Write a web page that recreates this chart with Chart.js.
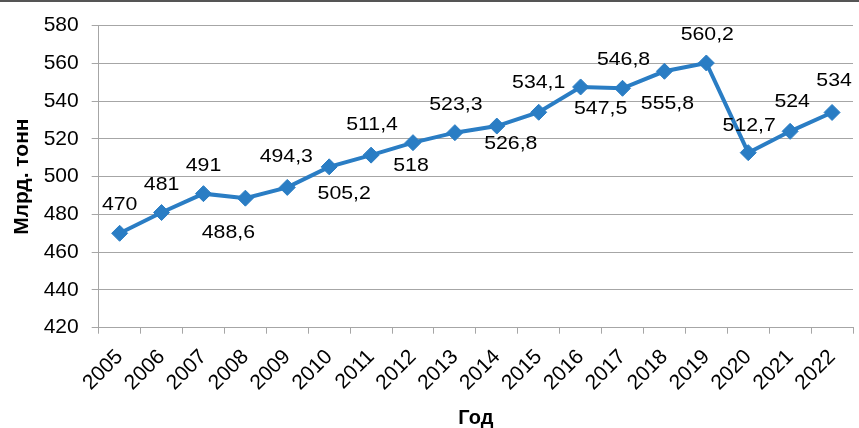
<!DOCTYPE html>
<html>
<head>
<meta charset="utf-8">
<script src="https://cdn.jsdelivr.net/npm/chart.js@4"></script>
<style>
  html, body { margin: 0; padding: 0; background: #fff; overflow: hidden; }
  #wrap { width: 862px; height: 428px; }
</style>
</head>
<body>
<div id="wrap"><canvas id="myChart" width="862" height="428"></canvas></div>
<script>
var years = ['2005', '2006', '2007', '2008', '2009', '2010', '2011', '2012', '2013',
             '2014', '2015', '2016', '2017', '2018', '2019', '2020', '2021', '2022'];
var values = [470, 481, 491, 488.6, 494.3, 505.2, 511.4, 518, 523.3,
              526.8, 534.1, 547.5, 546.8, 555.8, 560.2, 512.7, 524, 534];
var yTicks = [420, 440, 460, 480, 500, 520, 540, 560, 580];

// where each value label sits relative to its point (px)
var labelDx = [0, 0, 0, -17, -1, 15, 1, -2, 1, 14, 0, 20, 1, 3, 1, 1, 2, 2];
var labelDy = [-29, -28, -28, 35, -31, 27, -30, 23, -28, 18, -29, 22, -29, 32, -28, -27, -30, -32];

var blue = '#2a7dc4';
var grey = '#a6a6a6';
var fontName = '"Liberation Sans", Arial, sans-serif';

var valueLabels = {
    id: 'valueLabels',
    afterDatasetsDraw: function (chart) {
        var ctx = chart.ctx;
        var meta = chart.getDatasetMeta(0);
        ctx.save();
        ctx.fillStyle = '#000';
        ctx.font = '19px ' + fontName;
        ctx.textAlign = 'center';
        ctx.textBaseline = 'middle';
        meta.data.forEach(function (pt, i) {
            var txt = String(values[i]).replace('.', ',');
            ctx.save();
            ctx.translate(pt.x + labelDx[i], pt.y + labelDy[i]);
            ctx.scale(1.12, 1);
            ctx.fillText(txt, 0, 0);
            ctx.restore();
        });
        ctx.restore();
    }
};

var topBorder = {
    id: 'topBorder',
    afterDraw: function (chart) {
        var ctx = chart.ctx;
        ctx.save();
        ctx.fillStyle = '#555';
        ctx.fillRect(0, 0, chart.width, 2);
        ctx.restore();
    }
};

var ctx = document.getElementById('myChart').getContext('2d');
var myChart = new Chart(ctx, {
    type: 'line',
    data: {
        labels: years,
        datasets: [{
            data: values,
            borderColor: blue,
            backgroundColor: blue,
            borderWidth: 4,
            pointStyle: 'rectRot',
            pointRadius: 8,
            pointBorderWidth: 1,
            pointBackgroundColor: blue,
            pointBorderColor: blue,
            tension: 0
        }]
    },
    options: {
        responsive: false,
        animation: false,
        layout: { padding: { top: 22.7, left: 0, right: 0, bottom: 0 } },
        plugins: {
            legend: { display: false },
            tooltip: { enabled: false }
        },
        scales: {
            x: {
                offset: true,
                grid: { display: true, drawOnChartArea: false, drawTicks: true, tickLength: 6, color: grey, offset: true },
                border: { display: true, color: grey, width: 1 },
                ticks: {
                    color: '#000',
                    font: { family: fontName, size: 21 },
                    minRotation: 45,
                    maxRotation: 45,
                    autoSkip: false,
                    padding: 11
                },
                title: {
                    display: true,
                    text: 'Год',
                    color: '#000',
                    font: { family: fontName, size: 20, weight: 'bold', lineHeight: 1 },
                    padding: { top: 4, bottom: 0 }
                },
                afterFit: function (s) { s.height = 100.3; }
            },
            y: {
                min: 420,
                max: 580,
                afterBuildTicks: function (s) {
                    s.ticks = yTicks.map(function (v) { return { value: v }; });
                },
                grid: { color: grey, drawTicks: true, tickLength: 7 },
                border: { display: true, color: grey, width: 1 },
                ticks: {
                    color: '#000',
                    font: { family: fontName, size: 21 },
                    padding: 13
                },
                title: {
                    display: true,
                    text: 'Млрд. тонн',
                    color: '#000',
                    font: { family: fontName, size: 21, weight: 'bold', lineHeight: 1.2 },
                    padding: { top: 10, bottom: 0 }
                },
                afterFit: function (s) { s.width = 98.7; }
            }
        }
    },
    plugins: [valueLabels, topBorder]
});
</script>
</body>
</html>
